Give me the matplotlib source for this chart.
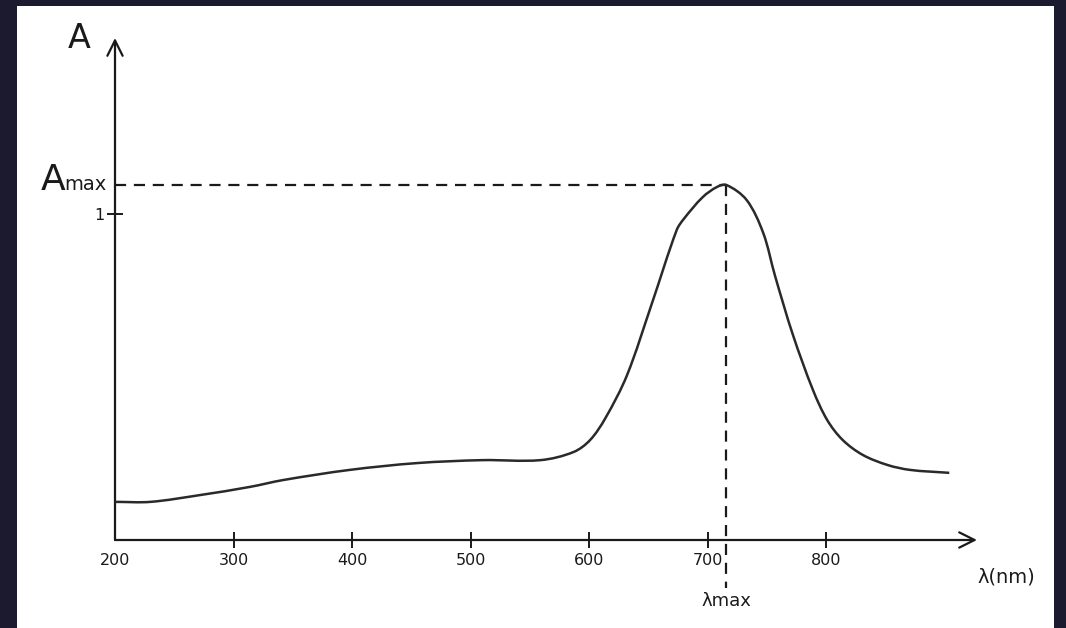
import matplotlib.pyplot as plt
from matplotlib.path import Path
from matplotlib.patches import PathPatch, Rectangle

# absorbance spectrum
wavelength = [200, 230, 272, 314, 342, 398, 455, 510, 559, 587, 601, 614, 632,
              653, 674, 680, 696, 708, 716, 733, 747, 757, 772, 789, 801, 814,
              831, 852, 871, 904]
absorbance = [0.117, 0.117, 0.138, 0.163, 0.184, 0.215, 0.236, 0.245, 0.245, 0.270,
              0.307, 0.375, 0.505, 0.725, 0.951, 0.985, 1.052, 1.083, 1.089, 1.043,
              0.942, 0.810, 0.630, 0.460, 0.368, 0.307, 0.261, 0.230, 0.215, 0.206]
x_ticks = [300, 400, 500, 600, 700, 800]
x_tick_labels = ["200", "300", "400", "500", "600", "700", "800"]
lambda_max = 716
a_max = 1.089

BG = "#1b1a2e"
INK = "#1a1a1a"
FONT = "DejaVu Sans"


def smooth_path(xs, ys, sx=1.185, sy=326.0):
    # cubic bezier through the points, tangents weighted by chord length
    # (lengths measured in pixel-like units so both axes count the same)
    n = len(xs)
    px = [x * sx for x in xs]
    py = [y * sy for y in ys]
    d = [((px[i + 1] - px[i]) ** 2 + (py[i + 1] - py[i]) ** 2) ** 0.5 for i in range(n - 1)]
    tx, ty = [], []
    for i in range(n):
        if i == 0:
            tx.append((px[1] - px[0]) / d[0]); ty.append((py[1] - py[0]) / d[0])
        elif i == n - 1:
            tx.append((px[-1] - px[-2]) / d[-1]); ty.append((py[-1] - py[-2]) / d[-1])
        else:
            w = d[i - 1] + d[i]
            tx.append((px[i + 1] - px[i - 1]) / w); ty.append((py[i + 1] - py[i - 1]) / w)
    verts = [(xs[0], ys[0])]
    codes = [Path.MOVETO]
    for i in range(n - 1):
        h = d[i] / 3
        c1 = ((px[i] + tx[i] * h) / sx, (py[i] + ty[i] * h) / sy)
        c2 = ((px[i + 1] - tx[i + 1] * h) / sx, (py[i + 1] - ty[i + 1] * h) / sy)
        verts += [c1, c2, (xs[i + 1], ys[i + 1])]
        codes += [Path.CURVE4] * 3
    return Path(verts, codes)


fig = plt.figure(figsize=(10.66, 6.28), dpi=100)
fig.patch.set_facecolor(BG)
fig.patches.append(Rectangle((17 / 1066, 0), 1037 / 1066, 622 / 628,
                             transform=fig.transFigure, facecolor="white",
                             edgecolor="none", zorder=-10))

ax = fig.add_axes([115 / 1066, 88 / 628, 862 / 1066, 502 / 628])
ax.set_facecolor("none")
ax.set_xlim(200, 927.4)
ax.set_ylim(0, 1.54)
for s in ax.spines.values():
    s.set_visible(False)

# axes drawn as arrows
arrow = dict(arrowstyle="->,head_length=1.1,head_width=0.55", color=INK, lw=1.6,
             shrinkA=0, shrinkB=0)
ax.annotate("", xy=(927.4, 0), xytext=(200, 0), arrowprops=arrow, annotation_clip=False)
ax.annotate("", xy=(200, 1.54), xytext=(200, 0), arrowprops=arrow, annotation_clip=False)

ax.set_xticks([200] + x_ticks)
ax.set_xticklabels(x_tick_labels)
ax.set_yticks([1])
ax.set_yticklabels(["1"])
ax.tick_params(axis="x", direction="inout", length=11, width=1.4, color=INK,
               pad=4, labelsize=11.5, labelcolor=INK)
ax.tick_params(axis="y", direction="inout", length=11, width=1.4, color=INK,
               pad=2, labelsize=11.5, labelcolor=INK)
ax.xaxis.get_major_ticks()[0].tick1line.set_visible(False)
for lab in ax.get_xticklabels() + ax.get_yticklabels():
    lab.set_family(FONT)

# spectrum
ax.add_patch(PathPatch(smooth_path(wavelength, absorbance), facecolor="none",
                       edgecolor="#2a2a2a", lw=1.8, zorder=3))

# dashed guides to the peak
ax.plot([200, lambda_max], [a_max, a_max], color=INK, lw=1.6,
        ls=(0, (5, 3.5)), clip_on=False)
ax.plot([lambda_max, lambda_max], [a_max, -0.147], color=INK, lw=1.6,
        ls=(0, (5, 3.5)), clip_on=False)

# labels
ax.text(158, 1.074, "A", ha="right", va="baseline", fontsize=26, color=INK,
        family=FONT)
ax.text(193, 1.074, "max", ha="right", va="baseline", fontsize=14,
        color=INK, family=FONT)
ax.text(179, 1.509, "A", ha="right", va="baseline", fontsize=24, color=INK,
        family=FONT)
ax.text(lambda_max, -0.16, "λmax", ha="center", va="top", fontsize=13,
        color=INK, family=FONT)
ax.text(928, -0.113, "λ(nm)", ha="left", va="center", fontsize=14,
        color=INK, family=FONT)

fig.savefig("out.png", dpi=100, facecolor=BG)
